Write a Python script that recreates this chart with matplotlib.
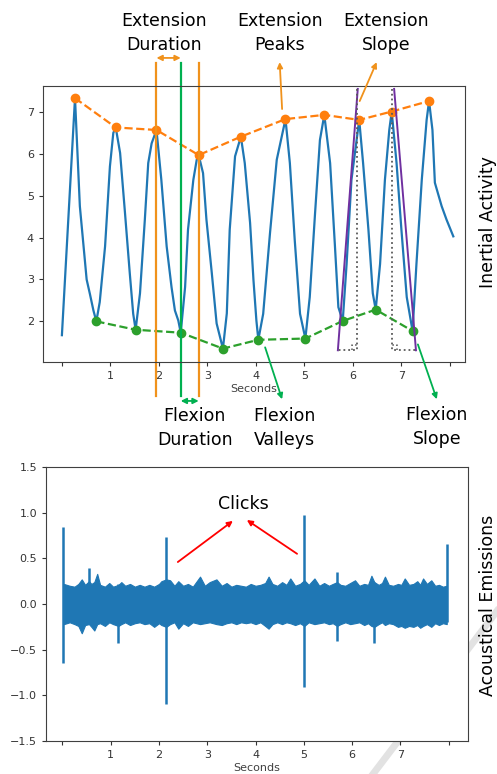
import numpy as np
import matplotlib
matplotlib.use("Agg")
import matplotlib.pyplot as plt
from matplotlib.lines import Line2D

# ---------------- data ----------------
# inertial signal (seconds, value)
imu_t = [0.00, 0.27, 0.37, 0.51, 0.58, 0.65, 0.71, 0.78, 0.89, 0.99, 1.06, 1.11,
         1.20, 1.30, 1.40, 1.47, 1.52, 1.61, 1.71, 1.78, 1.85, 1.95, 2.05, 2.16,
         2.26, 2.33, 2.40, 2.45, 2.54, 2.60, 2.71, 2.78, 2.82, 2.91, 2.98, 3.09,
         3.19, 3.32, 3.40, 3.46, 3.57, 3.69, 3.77, 3.88, 3.95, 4.01, 4.05, 4.15,
         4.29, 4.43, 4.61, 4.70, 4.80, 4.91, 5.02, 5.11, 5.22, 5.32, 5.41, 5.53,
         5.63, 5.70, 5.79, 5.87, 5.97, 6.13, 6.21, 6.32, 6.41, 6.47, 6.56, 6.66,
         6.75, 6.80, 6.90, 7.00, 7.11, 7.23, 7.31, 7.42, 7.52, 7.57, 7.64, 7.69,
         7.83, 7.93, 8.07]
imu_y = [1.67, 7.33, 4.75, 3.00, 2.64, 2.26, 2.00, 2.46, 3.79, 5.70, 6.50, 6.63,
         6.02, 4.60, 3.14, 2.18, 1.80, 2.67, 4.43, 5.78, 6.25, 6.57, 5.38, 3.79,
         2.82, 2.26, 2.02, 1.73, 2.82, 4.19, 5.38, 5.86, 5.97, 5.54, 4.43, 3.16,
         1.95, 1.35, 2.19, 4.19, 5.94, 6.41, 5.78, 4.35, 2.98, 2.02, 1.56, 2.18,
         4.10, 5.86, 6.83, 5.78, 3.95, 2.18, 1.59, 2.58, 4.59, 6.33, 6.93, 5.78,
         3.79, 2.34, 2.01, 3.37, 5.38, 6.81, 5.78, 4.19, 2.67, 2.28, 3.37, 5.38,
         6.57, 7.01, 5.78, 4.19, 2.58, 1.77, 3.37, 5.38, 6.81, 7.26, 6.57, 5.31,
         4.75, 4.43, 4.03]

peak_t = [0.27, 1.11, 1.95, 2.82, 3.69, 4.61, 5.41, 6.13, 6.80, 7.57]
peak_y = [7.33, 6.63, 6.57, 5.97, 6.41, 6.83, 6.93, 6.81, 7.01, 7.26]
valley_t = [0.71, 1.52, 2.45, 3.32, 4.05, 5.02, 5.79, 6.47, 7.23]
valley_y = [2.00, 1.80, 1.73, 1.35, 1.56, 1.59, 2.01, 2.28, 1.77]

# acoustic band envelope (seconds, upper, lower)
ae_t = [0.03, 0.15, 0.25, 0.33, 0.40, 0.47, 0.55, 0.60, 0.66, 0.72, 0.78, 0.88,
        0.97, 1.05, 1.16, 1.22, 1.30, 1.40, 1.50, 1.60, 1.70, 1.80, 1.90, 2.00,
        2.05, 2.15, 2.23, 2.32, 2.40, 2.50, 2.60, 2.70, 2.85, 2.95, 3.05, 3.19,
        3.30, 3.40, 3.50, 3.60, 3.70, 3.80, 3.90, 4.00, 4.10, 4.20, 4.27, 4.35,
        4.45, 4.55, 4.64, 4.72, 4.82, 4.92, 5.01, 5.10, 5.22, 5.32, 5.42, 5.52,
        5.60, 5.69, 5.76, 5.86, 5.96, 6.06, 6.15, 6.25, 6.33, 6.40, 6.46, 6.55,
        6.62, 6.68, 6.76, 6.85, 6.95, 7.02, 7.09, 7.18, 7.27, 7.35, 7.41, 7.47,
        7.55, 7.64, 7.72, 7.80, 7.88, 7.96]
ae_hi = [0.22, 0.20, 0.19, 0.22, 0.27, 0.21, 0.25, 0.22, 0.24, 0.33, 0.21, 0.19,
         0.23, 0.19, 0.21, 0.24, 0.20, 0.22, 0.19, 0.21, 0.19, 0.21, 0.19, 0.22,
         0.25, 0.27, 0.26, 0.20, 0.25, 0.20, 0.22, 0.19, 0.30, 0.20, 0.24, 0.27,
         0.20, 0.23, 0.19, 0.21, 0.20, 0.19, 0.22, 0.20, 0.21, 0.23, 0.30, 0.22,
         0.20, 0.24, 0.21, 0.28, 0.20, 0.22, 0.26, 0.21, 0.28, 0.20, 0.23, 0.20,
         0.22, 0.24, 0.21, 0.20, 0.23, 0.26, 0.20, 0.22, 0.21, 0.31, 0.24, 0.21,
         0.23, 0.30, 0.21, 0.20, 0.22, 0.21, 0.28, 0.21, 0.22, 0.25, 0.21, 0.28,
         0.22, 0.26, 0.20, 0.21, 0.19, 0.20]
ae_lo = [-0.22, -0.20, -0.22, -0.24, -0.32, -0.23, -0.22, -0.25, -0.29, -0.22, -0.21, -0.24,
         -0.20, -0.22, -0.24, -0.22, -0.20, -0.23, -0.21, -0.20, -0.22, -0.21, -0.25, -0.21,
         -0.23, -0.25, -0.22, -0.20, -0.27, -0.21, -0.24, -0.20, -0.22, -0.21, -0.20, -0.22,
         -0.23, -0.21, -0.20, -0.22, -0.20, -0.21, -0.20, -0.22, -0.20, -0.24, -0.27, -0.22,
         -0.20, -0.22, -0.20, -0.21, -0.23, -0.21, -0.24, -0.20, -0.22, -0.21, -0.20, -0.22,
         -0.21, -0.24, -0.22, -0.20, -0.22, -0.21, -0.20, -0.23, -0.21, -0.24, -0.25, -0.22,
         -0.20, -0.23, -0.21, -0.22, -0.25, -0.24, -0.26, -0.24, -0.25, -0.23, -0.26, -0.24,
         -0.22, -0.25, -0.21, -0.23, -0.21, -0.22]

# narrow clicks / spikes (seconds, top, bottom)
spike_t = [0.02, 0.55, 1.16, 2.15, 5.01, 5.69, 6.46, 7.97]
spike_hi = [0.84, 0.39, 0.22, 0.73, 0.98, 0.35, 0.24, 0.66]
spike_lo = [-0.65, -0.22, -0.43, -1.09, -0.91, -0.40, -0.43, -0.20]

xticks = [0, 1, 2, 3, 4, 5, 6, 7, 8]
xticklabels = ["", "1", "2", "3", "4", "5", "6", "7", ""]
top_yticks = [2, 3, 4, 5, 6, 7]
bot_yticks = [-1.5, -1.0, -0.5, 0.0, 0.5, 1.0, 1.5]

# ---------------- figure ----------------
BLUE = "#1f77b4"
ORANGE = "#ff7f0e"
GREEN = "#2ca02c"
A_ORANGE = "#f0921c"
A_GREEN = "#00b050"
PURPLE = "#7030a0"
FS = 12.5

fig = plt.figure(figsize=(4.97, 7.74), dpi=100)
ax1 = fig.add_axes([0.0865, 0.5323, 0.849, 0.3566])
ax2 = fig.add_axes([0.0926, 0.0426, 0.849, 0.354])

for ax in (ax1, ax2):
    for s in ax.spines.values():
        s.set_color("0.25")
    ax.tick_params(labelsize=8, colors="0.2", length=3)
    ax.set_xticks(xticks)
    ax.set_xticklabels(xticklabels)
    ax.set_xlabel("Seconds", fontsize=8, color="0.25", labelpad=2)

# top: inertial activity
ax1.plot(imu_t, imu_y, color=BLUE, lw=1.6)
ax1.plot(peak_t, peak_y, "--o", color=ORANGE, lw=1.6, ms=6)
ax1.plot(valley_t, valley_y, "--o", color=GREEN, lw=1.6, ms=6)
ax1.set_xlim(-0.39, 8.31)
ax1.set_ylim(1.03, 7.62)
ax1.set_yticks(top_yticks)

# duration markers
lo_y, hi_y = 0.21, 8.17
for t in (peak_t[2], peak_t[3]):
    ax1.plot([t, t], [lo_y, hi_y], color=A_ORANGE, lw=1.6, clip_on=False)
ax1.plot([valley_t[2]] * 2, [lo_y, hi_y], color=A_GREEN, lw=1.6, clip_on=False)

def arrow(ax, head, tail, color, style="-|>"):
    ax.annotate("", xy=head, xytext=tail, annotation_clip=False,
                arrowprops=dict(arrowstyle=style, color=color, lw=1.3,
                                shrinkA=0, shrinkB=0, mutation_scale=8))

arrow(ax1, (valley_t[2], 8.29), (peak_t[2], 8.29), A_ORANGE, "<|-|>")
arrow(ax1, (peak_t[3], 0.10), (valley_t[2], 0.10), A_GREEN, "<|-|>")
arrow(ax1, (4.49, 8.19), (4.54, 7.07), A_ORANGE)
arrow(ax1, (6.49, 8.19), (6.14, 7.26), A_ORANGE)
arrow(ax1, (4.54, 0.14), (4.19, 1.38), A_GREEN)
arrow(ax1, (7.73, 0.14), (7.34, 1.45), A_GREEN)

# slope marks
ax1.plot([5.69, 6.10], [1.31, 7.55], color=PURPLE, lw=1.4)
ax1.plot([6.85, 7.30], [7.55, 1.31], color=PURPLE, lw=1.4)
ax1.plot([6.08, 6.08, 5.69], [7.55, 1.31, 1.31], ":", color="0.35", lw=1.3)
ax1.plot([6.80, 6.80, 7.30], [7.55, 1.31, 1.31], ":", color="0.35", lw=1.3)
ax1.plot([5.98, 5.98, 6.08], [1.31, 1.43, 1.43], ":", color="0.35", lw=1.1)
ax1.plot([6.90, 6.90, 6.80], [1.31, 1.43, 1.43], ":", color="0.35", lw=1.1)

txt = dict(ha="center", va="center", fontsize=FS, linespacing=1.45,
           annotation_clip=False)
ax1.annotate("Extension\nDuration", (2.10, 8.88), **txt)
ax1.annotate("Extension\nPeaks", (4.49, 8.88), **txt)
ax1.annotate("Extension\nSlope", (6.68, 8.88), **txt)
ax1.annotate("Flexion\nDuration", (2.74, -0.55), **txt)
ax1.annotate("Flexion\nValleys", (4.58, -0.55), **txt)
ax1.annotate("Flexion\nSlope", (7.73, -0.52), **txt)

# bottom: acoustical emissions
ax2.fill_between(ae_t, ae_lo, ae_hi, color=BLUE, lw=0.8)
ax2.vlines(spike_t, spike_lo, spike_hi, color=BLUE, lw=1.8)
ax2.set_xlim(-0.34, 8.40)
ax2.set_ylim(-1.5, 1.5)
ax2.set_yticks(bot_yticks)
ax2.annotate("Clicks", (3.74, 1.09), ha="center", va="center", fontsize=FS)
arrow(ax2, (3.53, 0.91), (2.39, 0.46), "red")
arrow(ax2, (3.82, 0.92), (4.86, 0.55), "red")

# side labels
fig.text(0.982, 1 - 222 / 774, "Inertial Activity", rotation=90,
         ha="center", va="center", fontsize=FS)
fig.text(0.982, 1 - 605 / 774, "Acoustical Emissions", rotation=90,
         ha="center", va="center", fontsize=FS)

# faint diagonal stroke in the lower right corner
fig.add_artist(Line2D([497 / 497, 370 / 497], [1 - 611 / 774, 1 - 778 / 774],
                      transform=fig.transFigure, color="#e2e2e2", lw=5, zorder=-1))

fig.savefig("out.png", dpi=100)
